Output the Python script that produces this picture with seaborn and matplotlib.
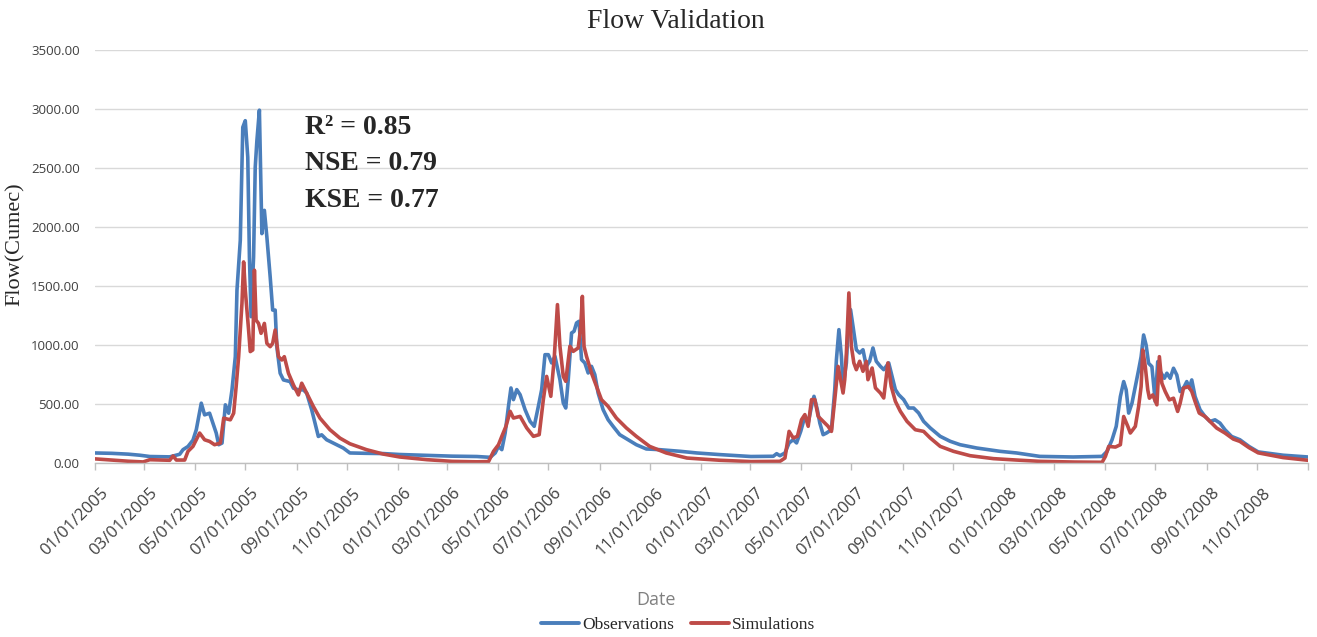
import numpy as np
import pandas as pd
import matplotlib
matplotlib.use("Agg")
import matplotlib.pyplot as plt
import matplotlib.transforms as mtransforms
import seaborn as sns

# ---- data (days since 2005-01-01, flow in cumec) ----
obs_day = [0, 20, 40, 54, 66, 90, 102, 106, 112, 118, 122, 128, 132, 138, 142, 146, 149, 153, 157, 161,
           165, 169, 171, 175, 178, 181, 184, 186, 188, 191, 193, 195, 198, 200, 201, 204, 207, 211, 214, 217,
           219, 223, 227, 235, 239, 245, 251, 255, 261, 265, 269, 273, 279, 291, 299, 307, 327, 347, 367, 400,
           430, 460, 476, 482, 486, 490, 494, 498, 501, 504, 508, 512, 518, 524, 529, 534, 538, 542, 546, 550,
           554, 560, 564, 567, 570, 574, 577, 580, 583, 586, 590, 594, 598, 602, 606, 612, 618, 624, 632, 642,
           652, 664, 680, 705, 725, 753, 790, 817, 821, 825, 831, 836, 841, 845, 850, 855, 859, 863, 866, 870,
           873, 877, 881, 887, 891, 893, 896, 899, 901, 905, 907, 910, 913, 917, 921, 925, 929, 933, 937, 941,
           946, 950, 956, 960, 964, 968, 974, 980, 986, 992, 998, 1006, 1018, 1030, 1042, 1062, 1090, 1110, 1138, 1178,
           1213, 1219, 1225, 1230, 1235, 1239, 1242, 1245, 1249, 1253, 1257, 1260, 1263, 1266, 1269, 1273, 1277, 1280, 1283, 1288,
           1291, 1295, 1299, 1303, 1307, 1312, 1315, 1318, 1321, 1325, 1331, 1337, 1343, 1349, 1355, 1361, 1369, 1379, 1390, 1401,
           1431, 1461]
obs_flow = [85, 82, 75, 66, 55, 52, 74, 113, 140, 194, 282, 507, 408, 422, 338, 254, 155, 169, 493, 422,
            620, 901, 1465, 1887, 2845, 2901, 2592, 1746, 1240, 1746, 2507, 2732, 2990, 2310, 1944, 2141, 1916, 1577, 1296, 1296,
            986, 761, 704, 690, 634, 620, 620, 592, 451, 338, 225, 239, 197, 155, 127, 85, 82, 80, 72, 65,
            58, 55, 48, 85, 141, 113, 254, 480, 636, 537, 622, 579, 452, 353, 311, 480, 622, 918, 918, 848,
            904, 706, 509, 466, 706, 1102, 1116, 1187, 1201, 876, 848, 763, 819, 749, 593, 452, 367, 311, 240, 198,
            155, 119, 113, 99, 85, 71, 55, 57, 79, 62, 85, 170, 198, 170, 268, 395, 339, 480, 565, 452,
            339, 240, 254, 282, 622, 876, 1130, 904, 650, 848, 1130, 1300, 1158, 960, 932, 960, 819, 862, 975, 862,
            819, 791, 848, 734, 622, 579, 537, 466, 466, 424, 353, 297, 226, 184, 155, 127, 99, 85, 56, 51,
            56, 99, 197, 310, 563, 690, 620, 423, 507, 648, 789, 901, 1085, 1000, 845, 817, 521, 859, 775, 718,
            761, 718, 803, 746, 606, 648, 690, 634, 704, 563, 451, 394, 352, 366, 338, 282, 225, 197, 140, 94,
            66, 51]

sim_day = [0, 20, 40, 58, 66, 90, 94, 98, 108, 112, 118, 126, 132, 138, 144, 151, 155, 163, 167, 170,
           173, 177, 179, 181, 185, 187, 190, 192, 194, 197, 200, 204, 207, 211, 214, 217, 221, 225, 228, 233,
           239, 245, 249, 255, 263, 271, 283, 295, 307, 327, 347, 367, 400, 430, 460, 474, 480, 486, 490, 495,
           500, 504, 512, 520, 528, 535, 540, 544, 549, 553, 557, 560, 564, 567, 572, 576, 582, 585, 587, 589,
           592, 598, 604, 610, 618, 628, 640, 652, 668, 688, 713, 753, 790, 825, 831, 836, 841, 846, 851, 855,
           859, 863, 867, 871, 877, 883, 887, 891, 895, 898, 901, 903, 905, 908, 911, 914, 917, 921, 925, 929,
           931, 936, 940, 946, 950, 955, 959, 964, 970, 978, 988, 998, 1006, 1018, 1034, 1054, 1082, 1110, 1138, 1180,
           1213, 1217, 1221, 1229, 1235, 1239, 1244, 1247, 1253, 1257, 1260, 1262, 1265, 1268, 1270, 1274, 1279, 1282, 1285, 1289,
           1294, 1299, 1304, 1307, 1311, 1317, 1321, 1325, 1330, 1337, 1343, 1351, 1361, 1371, 1379, 1390, 1401, 1431, 1461]
sim_flow = [35, 25, 15, 9, 28, 23, 60, 25, 25, 99, 141, 254, 197, 183, 155, 169, 380, 366, 422, 648,
            901, 1352, 1704, 1465, 1127, 944, 958, 1634, 1211, 1183, 1099, 1183, 1014, 986, 1014, 1127, 901, 873, 901, 761,
            662, 577, 676, 592, 479, 380, 282, 211, 163, 113, 76, 51, 28, 14, 10, 12, 99, 155, 226, 311,
            438, 381, 395, 297, 226, 240, 537, 734, 565, 876, 1342, 989, 734, 692, 989, 946, 975, 1150, 1412, 989,
            904, 763, 650, 537, 480, 381, 297, 226, 141, 85, 42, 23, 12, 14, 42, 268, 212, 226, 367, 410,
            311, 537, 537, 395, 353, 311, 268, 537, 819, 706, 593, 706, 932, 1441, 989, 848, 791, 862, 777, 862,
            706, 805, 636, 593, 551, 848, 650, 523, 438, 353, 282, 268, 212, 141, 99, 62, 37, 25, 14, 8,
            6, 56, 141, 135, 155, 394, 310, 254, 310, 479, 648, 958, 817, 620, 549, 577, 493, 901, 676, 606,
            535, 549, 437, 507, 634, 648, 606, 521, 423, 394, 352, 296, 254, 203, 183, 130, 86, 46, 23]

series_names = ["Observations", "Simulations"]
series_colors = ["#4A7EBB", "#BE4B48"]
stats_text = ["R\u00b2 = 0.85", "NSE = 0.79", "KSE = 0.77"]
y_ticks = [0, 500, 1000, 1500, 2000, 2500, 3000, 3500]

start = pd.Timestamp("2005-01-01")
df = pd.concat([
    pd.DataFrame({"date": start + pd.to_timedelta(obs_day, unit="D"), "flow": obs_flow, "series": series_names[0]}),
    pd.DataFrame({"date": start + pd.to_timedelta(sim_day, unit="D"), "flow": sim_flow, "series": series_names[1]}),
], ignore_index=True)

sns.set_theme(style="white")
plt.rcParams["font.family"] = ["Liberation Serif", "DejaVu Serif"]

W, H = 1317, 637
fig = plt.figure(figsize=(W / 100, H / 100), dpi=100)
ax = fig.add_axes([95 / W, 1 - 463 / H, (1308 - 95) / W, (463 - 50) / H])

sns.lineplot(data=df, x="date", y="flow", hue="series", palette=dict(zip(series_names, series_colors)),
             estimator=None, linewidth=2.6, ax=ax, legend=False)

ax.set_xlim(pd.Timestamp("2005-01-01"), pd.Timestamp("2009-01-01"))
ax.set_ylim(0, 3500)
ax.set_yticks(y_ticks)
ax.set_yticklabels([f"{v:.2f}" for v in y_ticks], fontfamily="Open Sans", fontsize=9.5, color="#404040")
ticks = list(pd.date_range("2005-01-01", "2009-01-01", freq="2MS"))
ax.set_xticks(ticks)
ax.set_xticklabels([t.strftime("%m/%d/%Y") if t.year < 2009 else "" for t in ticks],
                   rotation=45, ha="right", va="top", rotation_mode="anchor",
                   fontfamily="Open Sans", fontsize=12, color="#404040")
ax.tick_params(axis="x", direction="out", length=5, width=1, color="#BFBFBF", pad=0, bottom=True)
ax.tick_params(axis="y", length=0, pad=11)
shift = mtransforms.ScaledTranslation(0.05, -0.15, fig.dpi_scale_trans)
for lab in ax.get_xticklabels():
    lab.set_transform(lab.get_transform() + shift)
ax.set_xlabel("")
ax.set_ylabel("")
ax.grid(axis="y", color="#D9D9D9", linewidth=1)
ax.grid(axis="x", visible=False)
for s in ["left", "top", "right"]:
    ax.spines[s].set_visible(False)
ax.spines["bottom"].set_color("#BFBFBF")
ax.spines["bottom"].set_linewidth(1)

# texts
fig.text(0.513, 1 - 21 / H, "Flow Validation", ha="center", va="center", fontsize=20)
fig.text(15 / W, 1 - 244 / H, "Flow(Cumec)", rotation=90, ha="center", va="center", fontsize=16)
fig.text(656 / W, 1 - 600 / H, "Date", ha="center", va="center", fontsize=13,
         fontfamily="Open Sans", color="#808080")
for i, t in enumerate(stats_text):
    fig.text(305 / W, 1 - (128 + 36 * i) / H, t, ha="left", va="center", fontsize=20, fontweight="bold")

handles = [plt.Line2D([], [], color=c, linewidth=2.8) for c in series_colors]
fig.legend(handles, series_names, loc="center", bbox_to_anchor=(678 / W, 1 - 625 / H), ncol=2,
           frameon=False, fontsize=12.5, handlelength=2.2, handletextpad=0.15, columnspacing=1.0)

fig.savefig("out.png", dpi=100)
